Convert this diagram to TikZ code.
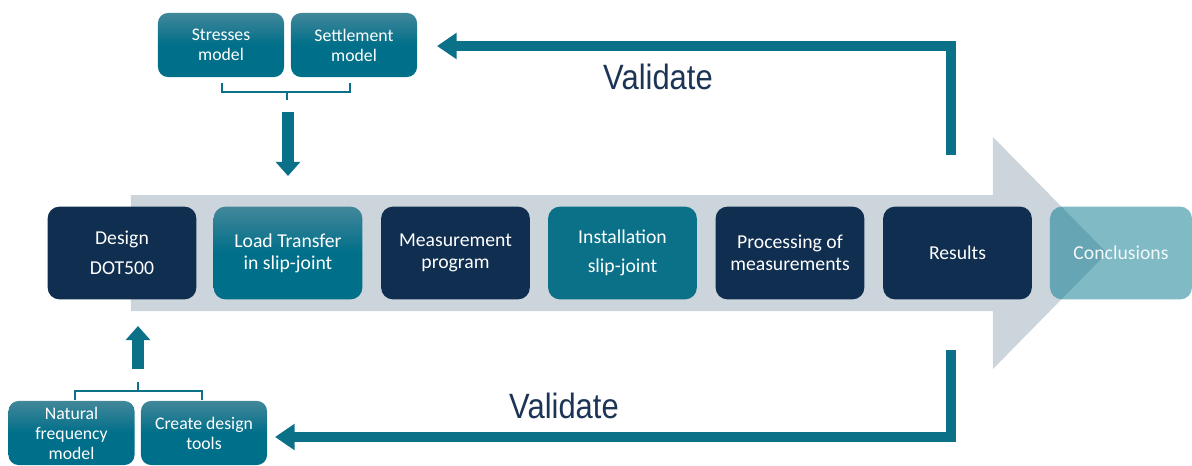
\documentclass[tikz,border=0pt]{standalone}
\usepackage{fontspec}
\setmainfont{Carlito}
\newfontfamily\valfont{Liberation Sans}
\usetikzlibrary{arrows.meta,positioning,shapes,backgrounds}

\definecolor{navy}{RGB}{16,46,80}
\definecolor{petrol}{RGB}{11,113,137}
\definecolor{petroltop}{RGB}{66,135,154}
\definecolor{petrolbot}{RGB}{0,111,137}
\definecolor{flowgray}{RGB}{205,213,220}
\definecolor{valtext}{RGB}{28,52,86}

\begin{document}
\begin{tikzpicture}[x=0.025cm, y=-0.025cm]

   \tikzstyle{stage}=[rectangle, rounded corners=0.3cm, fill=navy, text=white, minimum width=3.72cm, minimum height=2.32cm, inner sep=0pt, align=center, font=\fontsize{14}{15.6}\selectfont]
   \tikzstyle{stageshade}=[rectangle, rounded corners=0.3cm, top color=petroltop, bottom color=petrolbot, middle color=petrolbot, text=white, minimum width=3.72cm, minimum height=2.32cm, inner sep=0pt, align=center, font=\fontsize{14}{15.6}\selectfont]
   \tikzstyle{model}=[rectangle, rounded corners=0.25cm, top color=petroltop, bottom color=petrolbot, middle color=petrolbot, text=white, minimum width=3.15cm, minimum height=1.6cm, inner sep=0pt, align=center, font=\fontsize{12.6}{14.2}\selectfont]
   \tikzstyle{brace}=[petrol, line width=1.4pt]
   \tikzstyle{valarrow}=[petrol, line width=7pt, -{Triangle[width=18pt, length=14pt]}]
   \tikzstyle{feed}=[petrol, line width=8.5pt, -{Triangle[width=17pt, length=10pt]}]
   \tikzstyle{vlabel}=[text=valtext, font=\valfont\fontsize{25}{28}\selectfont]

   % flow arrow behind the stages
   \fill[flowgray] (131,195) -- (993,195) -- (993,137) -- (1107,253) -- (993,369) -- (993,311) -- (131,311) -- cycle;

   \node[stage, font=\fontsize{14}{21}\selectfont] (design) at (122,253) {Design\\DOT500};
   \node[stageshade] (load) at (288,253) {Load Transfer\\in slip-joint};
   \node[stage] (meas) at (455.5,253) {Measurement\\program};
   \node[stage, fill=petrol, font=\fontsize{14}{21}\selectfont] (inst) at (622.5,253) {Installation\\slip-joint};
   \node[stage] (proc) at (790,253) {Processing of\\measurements};
   \node[stage] (res) at (957.5,253) {Results};
   \node[stage, fill={rgb,255:red,0;green,118;blue,140}, fill opacity=0.5, text opacity=1, text=white!95!petrol, minimum width=3.55cm] (concl) at (1121,253) {Conclusions};

   % models feeding the stages
   \node[model] (stress) at (221,45) {Stresses\\model};
   \node[model] (settle) at (354,45) {Settlement\\model};
   \node[model] (natfreq) at (71.5,433) {Natural\\frequency\\model};
   \node[model] (tools) at (204,433) {Create design\\tools};

   \draw[brace] (222,83) -- (222,92) -- (350,92) -- (350,83) (287,92) -- (287,100);
   \draw[brace] (75,400) -- (75,391) -- (202,391) -- (202,400) (138,391) -- (138,382);

   \coordinate (dtop) at (288,112);
   \coordinate (dtip) at (288,176);
   \coordinate (ubot) at (138,369);
   \coordinate (utip) at (138,326);
   \draw[feed] (dtop) -- (dtip);
   \draw[feed] (ubot) -- (utip);

   % validation loops
   \coordinate (v1s) at (951,155);
   \coordinate (v1c) at (951,46);
   \coordinate (v1e) at (437,46);
   \coordinate (v2s) at (951,350);
   \coordinate (v2c) at (951,437);
   \coordinate (v2e) at (275,437);
   \draw[valarrow] (v1s) -- (v1c) -- (v1e);
   \draw[valarrow] (v2s) -- (v2c) -- (v2e);

   \node[vlabel] (val1) at (658,77) {\scalebox{0.88}[1]{Validate}};
   \node[vlabel] (val2) at (564,406) {\scalebox{0.88}[1]{Validate}};

   \useasboundingbox (0,0) rectangle (1192,463);
\end{tikzpicture}
\end{document}
